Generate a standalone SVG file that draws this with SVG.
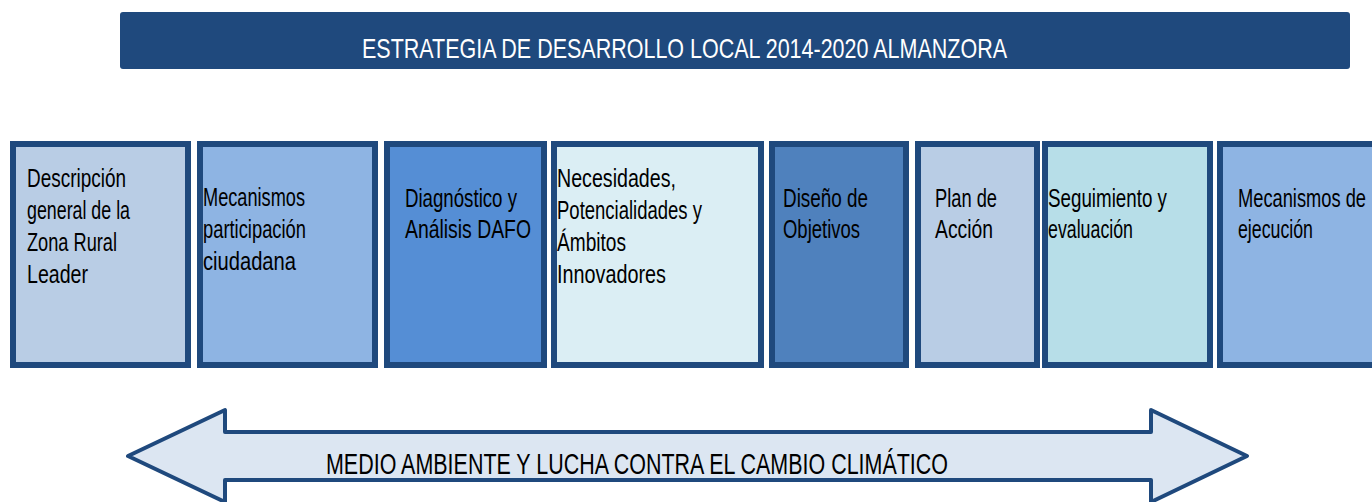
<svg xmlns="http://www.w3.org/2000/svg" width="1372" height="502" viewBox="0 0 1372 502">
<style>
.box{stroke:#1F497D;stroke-width:6}
.t{font-family:"Liberation Sans Narrow","Liberation Sans",Arial,sans-serif;font-size:25px;fill:#000}
.h{font-family:"Liberation Sans Narrow","Liberation Sans",Arial,sans-serif;font-size:28px;fill:#fff}
.a{font-family:"Liberation Sans Narrow","Liberation Sans",Arial,sans-serif;font-size:30px;fill:#000}
</style>
<rect width="1372" height="502" fill="#fff"/>
<g id="header">
<rect x="120" y="12" width="1230" height="57" rx="3" fill="#1F497D"/>
<text class="h" x="362" y="58" textLength="645" lengthAdjust="spacingAndGlyphs">ESTRATEGIA DE DESARROLLO LOCAL 2014-2020 ALMANZORA</text>
</g>
<g id="connectors">
<path d="M128,456 L225,410 L225,432 L1151,432 L1151,410 L1247,456 L1151,502 L1151,480 L225,480 L225,502 Z" fill="#DCE6F2" stroke="#1F497D" stroke-width="4" stroke-linejoin="round"/>
<text class="a" x="326" y="474" textLength="622" lengthAdjust="spacingAndGlyphs">MEDIO AMBIENTE Y LUCHA CONTRA EL CAMBIO CLIMÁTICO</text>
</g>
<g id="n1">
<rect class="box" x="13" y="144" width="175" height="221" fill="#B9CDE5"/>
<text class="t" x="27" y="187" textLength="99" lengthAdjust="spacingAndGlyphs">Descripción</text>
<text class="t" x="27" y="219" textLength="103" lengthAdjust="spacingAndGlyphs">general de la</text>
<text class="t" x="27" y="251" textLength="90" lengthAdjust="spacingAndGlyphs">Zona  Rural</text>
<text class="t" x="27" y="283" textLength="61" lengthAdjust="spacingAndGlyphs">Leader</text>
</g>
<g id="n2">
<rect class="box" x="200" y="144" width="175" height="221" fill="#8EB4E3"/>
<text class="t" x="203" y="206" textLength="102" lengthAdjust="spacingAndGlyphs">Mecanismos</text>
<text class="t" x="203" y="238" textLength="103" lengthAdjust="spacingAndGlyphs">participación</text>
<text class="t" x="203" y="270" textLength="93" lengthAdjust="spacingAndGlyphs">ciudadana</text>
</g>
<g id="n3">
<rect class="box" x="387" y="144" width="157" height="221" fill="#558ED5"/>
<text class="t" x="405" y="207" textLength="112" lengthAdjust="spacingAndGlyphs">Diagnóstico  y</text>
<text class="t" x="405" y="238" textLength="126" lengthAdjust="spacingAndGlyphs">Análisis  DAFO</text>
</g>
<g id="n4">
<rect class="box" x="554" y="144" width="207" height="221" fill="#DBEEF4"/>
<text class="t" x="557" y="187" textLength="119" lengthAdjust="spacingAndGlyphs">Necesidades,</text>
<text class="t" x="557" y="219" textLength="145" lengthAdjust="spacingAndGlyphs">Potencialidades  y</text>
<text class="t" x="557" y="251" textLength="69" lengthAdjust="spacingAndGlyphs">Ámbitos</text>
<text class="t" x="557" y="283" textLength="109" lengthAdjust="spacingAndGlyphs">Innovadores</text>
</g>
<g id="n5">
<rect class="box" x="772" y="144" width="134" height="221" fill="#4F81BD"/>
<text class="t" x="783" y="207" textLength="85" lengthAdjust="spacingAndGlyphs">Diseño de</text>
<text class="t" x="783" y="238" textLength="77" lengthAdjust="spacingAndGlyphs">Objetivos</text>
</g>
<g id="n6">
<rect class="box" x="918" y="144" width="119" height="221" fill="#B9CDE5"/>
<text class="t" x="935" y="207" textLength="62" lengthAdjust="spacingAndGlyphs">Plan de</text>
<text class="t" x="935" y="238" textLength="58" lengthAdjust="spacingAndGlyphs">Acción</text>
</g>
<g id="n7">
<rect class="box" x="1045" y="144" width="165" height="221" fill="#B7DEE8"/>
<text class="t" x="1048" y="207" textLength="119" lengthAdjust="spacingAndGlyphs">Seguimiento  y</text>
<text class="t" x="1048" y="238" textLength="85" lengthAdjust="spacingAndGlyphs">evaluación</text>
</g>
<g id="n8">
<rect class="box" x="1220" y="144" width="170" height="221" fill="#8EB4E3"/>
<text class="t" x="1238" y="207" textLength="128" lengthAdjust="spacingAndGlyphs">Mecanismos  de</text>
<text class="t" x="1238" y="238" textLength="75" lengthAdjust="spacingAndGlyphs">ejecución</text>
</g>
</svg>
